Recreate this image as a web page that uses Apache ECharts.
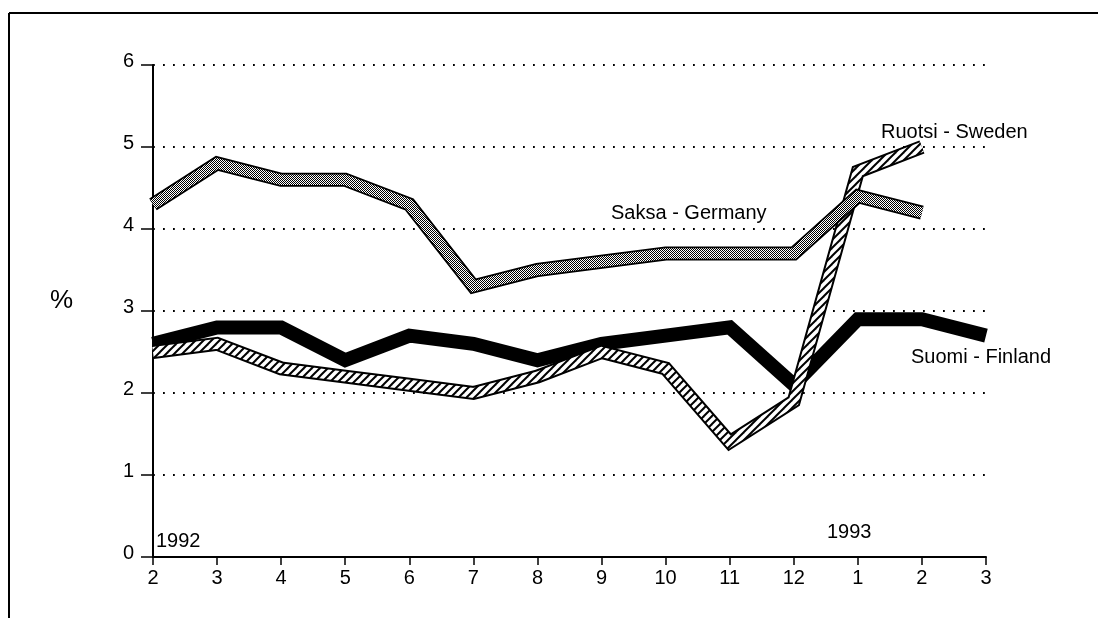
<!DOCTYPE html>
<html>
<head>
<meta charset="utf-8">
<script src="https://cdn.jsdelivr.net/npm/echarts@6/dist/echarts.min.js"></script>
<style>html,body{margin:0;padding:0;background:#fff;}#c{width:1106px;height:618px;}</style>
</head>
<body>
<div id="c"></div>
<script>
var categories = ['2','3','4','5','6','7','8','9','10','11','12','1','2','3'];
var germany = [4.3, 4.8, 4.6, 4.6, 4.3, 3.3, 3.5, 3.6, 3.7, 3.7, 3.7, 4.4, 4.2, null];
var sweden  = [2.5, 2.6, 2.3, 2.2, 2.1, 2.0, 2.2, 2.5, 2.3, 1.4, 1.9, 4.7, 5.0, null];
var finland = [2.6, 2.8, 2.8, 2.4, 2.7, 2.6, 2.4, 2.6, 2.7, 2.8, 2.1, 2.9, 2.9, 2.7];
var yTicks = [0,1,2,3,4,5,6];

function makeDither(){
  var c=document.createElement('canvas');c.width=4;c.height=4;
  var g=c.getContext('2d');g.fillStyle='#fff';g.fillRect(0,0,4,4);
  g.fillStyle='#000';
  g.fillRect(0,0,1,1);g.fillRect(2,0,1,1);g.fillRect(1,1,1,1);g.fillRect(3,1,1,1);
  g.fillRect(0,2,1,1);g.fillRect(2,2,1,1);g.fillRect(1,3,1,1);g.fillRect(3,3,1,1);
  return c;
}
function makeHatch(){
  var c=document.createElement('canvas');c.width=8;c.height=8;
  var g=c.getContext('2d');g.fillStyle='#fff';g.fillRect(0,0,8,8);
  g.strokeStyle='#000';g.lineWidth=2;
  g.beginPath();g.moveTo(-1,9);g.lineTo(9,-1);g.stroke();
  g.beginPath();g.moveTo(-9,9);g.lineTo(1,-1);g.stroke();
  g.beginPath();g.moveTo(7,9);g.lineTo(17,-1);g.stroke();
  return c;
}
var ditherPat = {image: makeDither(), repeat: 'repeat'};
var hatchPat = {image: makeHatch(), repeat: 'repeat'};

var FONT = 'Liberation Sans, Arial, Helvetica, sans-serif';
var FS = 20;
var chart = echarts.init(document.getElementById('c'), null, {renderer:'canvas'});

function lineSeries(name, data, color, width, z){
  return {name:name, type:'line', data:data, symbol:'none', silent:true, z:z,
    animation:false, connectNulls:false,
    lineStyle:{color:color, width:width, cap:'butt', join:'miter'}};
}

chart.setOption({
  animation:false,
  backgroundColor:'#fff',
  grid:{left:153, right:120, top:65, bottom:61, containLabel:false},
  xAxis:{type:'category', data:categories, boundaryGap:false,
    axisLine:{show:true, lineStyle:{color:'#000', width:2}},
    axisTick:{show:true, length:8, inside:false, lineStyle:{color:'#000', width:1.5}},
    axisLabel:{color:'#000', fontSize:FS, fontFamily:FONT, margin:11},
    splitLine:{show:false}},
  yAxis:{type:'value', min:0, max:6, interval:1,
    axisLine:{show:true, lineStyle:{color:'#000', width:2}},
    axisTick:{show:true, length:12, inside:false, lineStyle:{color:'#000', width:1.5}},
    axisLabel:{color:'#000', fontSize:FS, fontFamily:FONT, margin:19,
      formatter:function(v){return yTicks.indexOf(v)>=0?'{a|'+v+'}':'';},
      rich:{a:{fontSize:FS, fontFamily:FONT, color:'#000', padding:[0,0,7,0]}}},
    splitLine:{show:true, lineStyle:{color:'#000', width:1.8, type:[1.8,8.2]}}},
  series:[
    lineSeries('Suomi - Finland', finland, '#000', 14, 2),
    lineSeries('Ruotsi - Sweden outline', sweden, '#000', 14, 3),
    lineSeries('Ruotsi - Sweden', sweden, hatchPat, 10, 4),
    lineSeries('Saksa - Germany outline', germany, '#000', 14, 5),
    lineSeries('Saksa - Germany', germany, ditherPat, 10.5, 6)
  ],
  graphic:[
    {type:'line', shape:{x1:9,y1:13,x2:1098,y2:13}, style:{stroke:'#000', lineWidth:2}},
    {type:'line', shape:{x1:9,y1:13,x2:9,y2:618}, style:{stroke:'#000', lineWidth:2}},
    {type:'text', left:50, top:288, style:{text:'%', fontSize:26, fontFamily:FONT, fill:'#000'}},
    {type:'text', left:156, top:531, style:{text:'1992', fontSize:FS, fontFamily:FONT, fill:'#000'}},
    {type:'text', left:827, top:522, style:{text:'1993', fontSize:FS, fontFamily:FONT, fill:'#000'}},
    {type:'text', left:611, top:203, style:{text:'Saksa - Germany', fontSize:FS, fontFamily:FONT, fill:'#000'}},
    {type:'text', left:881, top:122, style:{text:'Ruotsi - Sweden', fontSize:FS, fontFamily:FONT, fill:'#000'}},
    {type:'text', left:911, top:347, style:{text:'Suomi - Finland', fontSize:FS, fontFamily:FONT, fill:'#000'}}
  ]
});
</script>
</body>
</html>
